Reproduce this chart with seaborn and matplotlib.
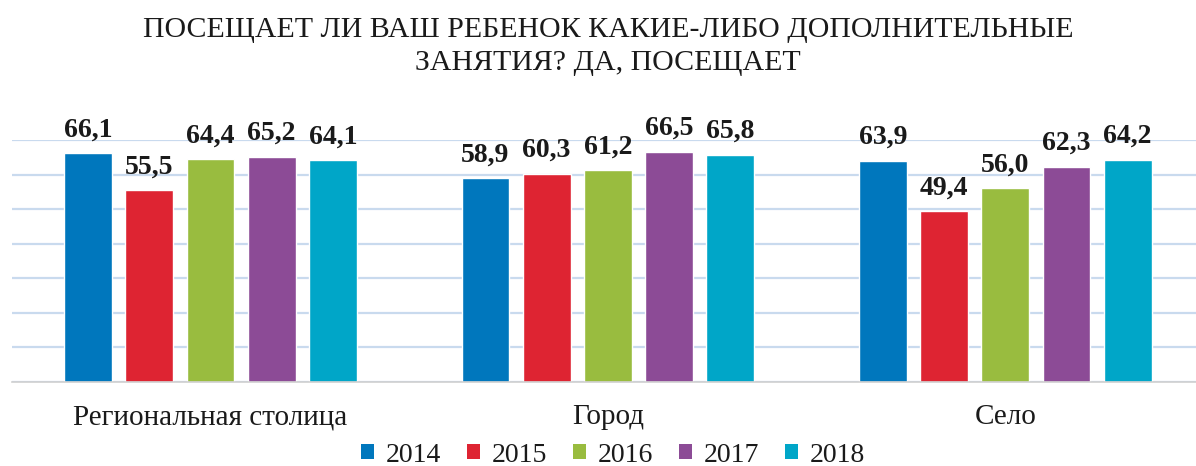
import matplotlib
matplotlib.use("Agg")
import matplotlib.pyplot as plt
import seaborn as sns
import pandas as pd
from matplotlib.patches import Patch

categories = ["Региональная столица", "Город", "Село"]
years = ["2014", "2015", "2016", "2017", "2018"]
values_2014 = [66.1, 58.9, 63.9]
values_2015 = [55.5, 60.3, 49.4]
values_2016 = [64.4, 61.2, 56.0]
values_2017 = [65.2, 66.5, 62.3]
values_2018 = [64.1, 65.8, 64.2]
colors = ["#0077BD", "#DE2432", "#99BC3F", "#8C4B96", "#00A6C8"]
title = "ПОСЕЩАЕТ ЛИ ВАШ РЕБЕНОК КАКИЕ-ЛИБО ДОПОЛНИТЕЛЬНЫЕ\nЗАНЯТИЯ? ДА, ПОСЕЩАЕТ"

series = [values_2014, values_2015, values_2016, values_2017, values_2018]
rows = []
for y, vals in zip(years, series):
    for c, v in zip(categories, vals):
        rows.append({"cat": c, "year": y, "val": v})
df = pd.DataFrame(rows)

sns.set_theme(style="white")
plt.rcParams["font.family"] = ["Liberation Serif", "DejaVu Serif"]

W, H = 1196, 466
fig = plt.figure(figsize=(W / 100, H / 100), dpi=100)
left_px, right_px = 11.75, 1204
ax = fig.add_axes([left_px / W, (H - 382) / H, (right_px - left_px) / W, (382 - 140) / H])

sns.barplot(data=df, x="cat", y="val", hue="year", hue_order=years, order=categories,
            palette=colors, width=0.77, gap=0.22, saturation=1, ax=ax, errorbar=None)

ax.set_ylim(0, 70)
ax.set_xlim(-0.5, 2.5)
ax.set_yticks(range(0, 71, 10))
ax.yaxis.grid(True, color="#C9DAEE", linewidth=1.6)
ax.set_axisbelow(True)
for s in ["left", "right", "top"]:
    ax.spines[s].set_visible(False)
ax.spines["bottom"].set_color("#D0D0D0")
ax.spines["bottom"].set_linewidth(1.2)
ax.tick_params(axis="y", left=False, labelleft=False)
ax.tick_params(axis="x", length=0, pad=16, labelsize=21, labelcolor="#1a1a1a")
ax.set_xlabel("")
ax.set_ylabel("")

for cont, vals in zip(ax.containers, series):
    for bar, v in zip(cont.patches, vals):
        ax.annotate(f"{v:.1f}".replace(".", ","),
                    xy=(bar.get_x() + bar.get_width() / 2, bar.get_height()),
                    xytext=(0, 12.2), textcoords="offset points",
                    ha="center", va="baseline", fontsize=20, fontweight="bold",
                    color="#1a1a1a", annotation_clip=False)

if ax.get_legend() is not None:
    ax.get_legend().remove()
handles = [Patch(facecolor=c, edgecolor="none") for c in colors]
fig.legend(handles, years, loc="center", bbox_to_anchor=(613 / W, 1 - 455 / H),
           ncol=5, frameon=False, fontsize=20, handlelength=0.47, handleheight=0.47,
           handletextpad=0.43, columnspacing=0.93, labelcolor="#1a1a1a",
           borderpad=0.1)

fig.text(608 / W, 1 - 46.5 / H, title, ha="center", va="center", fontsize=21.5,
         color="#1a1a1a", linespacing=1.32)

fig.savefig("out.png", dpi=100)
